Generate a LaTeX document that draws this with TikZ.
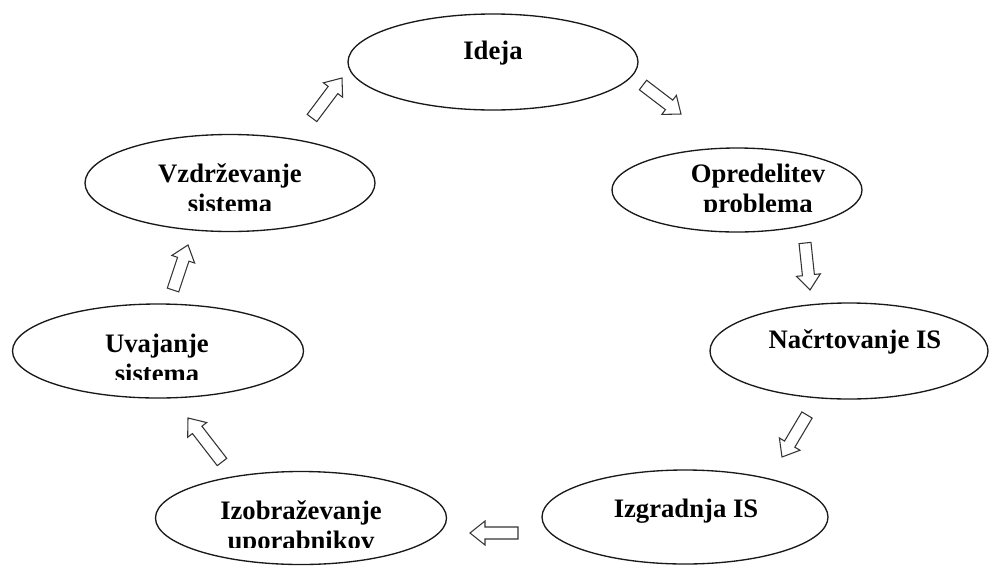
\documentclass[tikz,border=0pt]{standalone}
\usepackage{fontspec}
\setmainfont{Liberation Serif}
\usetikzlibrary{shapes.geometric,calc}
\tikzset{
  ell/.style={draw=black!90, line width=1pt, ellipse, inner sep=0pt, fill=white},
  lab/.style={font=\fontsize{20}{24}\selectfont\bfseries, inner sep=0pt, anchor=base, text=black},
  barrow/.style={draw=black!80, line width=0.8pt, fill=white, line join=miter}
}
\newcommand\blockarrow[2]{%
  \coordinate (ba) at ($(#2)!11.25pt!(#1)$);
  \draw[barrow] ($(#1)!4.5pt!90:(#2)$) -- ($(ba)!4.5pt!90:(#2)$) -- ($(ba)!9pt!90:(#2)$) -- (#2)
     -- ($(ba)!9pt!-90:(#2)$) -- ($(ba)!4.5pt!-90:(#2)$) -- ($(#1)!4.5pt!-90:(#2)$) -- cycle;}
\begin{document}
\begin{tikzpicture}[x=0.75pt,y=-0.75pt]
\useasboundingbox[fill=white] (0,0) rectangle (989,565);
% ellipses
\node[ell, minimum width=217.5pt, minimum height=72pt]   (ideja) at (493,62) {};
\node[ell, minimum width=187.5pt, minimum height=63pt]   (opred) at (737,190) {};
\node[ell, minimum width=208.5pt, minimum height=72pt]   (nacrt) at (849,351) {};
\node[ell, minimum width=214.5pt, minimum height=70.5pt] (izgr)  at (685,517) {};
\node[ell, minimum width=218.25pt, minimum height=69.75pt] (izobr) at (301,518) {};
\node[ell, minimum width=218.25pt, minimum height=70.5pt] (uvaj)  at (158,351) {};
\node[ell, minimum width=217.5pt, minimum height=72.75pt] (vzdr)  at (230,183) {};
% labels
\node[lab] (lideja) at (493,59) {Ideja};
\node[lab] (lnacrt) at (855,348) {Načrtovanje IS};
\node[lab] (lizgr) at (686,517) {Izgradnja IS};
\node[lab] (lopred1) at (758,182) {Opredelitev};
\begin{scope}
  \clip (640,190) rectangle (880,211);
  \node[lab] (lopred2) at (758,212) {problema};
\end{scope}
\node[lab] (lizobr1) at (301,519) {Izobraževanje};
\begin{scope}
  \clip (180,527) rectangle (420,547);
  \node[lab] (lizobr2) at (301,549) {uporabnikov};
\end{scope}
\node[lab] (luvaj1) at (157,352) {Uvajanje};
\begin{scope}
  \clip (50,360) rectangle (260,379);
  \node[lab] (luvaj2) at (157,382) {sistema};
\end{scope}
\node[lab] (lvzdr1) at (230,182) {Vzdrževanje};
\begin{scope}
  \clip (120,190) rectangle (340,210);
  \node[lab] (lvzdr2) at (230,212) {sistema};
\end{scope}
% arrow end points
\coordinate (t1) at (312,118); \coordinate (h1) at (342,78);
\coordinate (t2) at (643,85);  \coordinate (h2) at (681,114);
\coordinate (t3) at (805,243); \coordinate (h3) at (810,290);
\coordinate (t4) at (807,415); \coordinate (h4) at (782,457);
\coordinate (t5) at (518,533); \coordinate (h5) at (470,533);
\coordinate (t6) at (222,462); \coordinate (h6) at (188,418);
\coordinate (t7) at (173,290); \coordinate (h7) at (188,245);
\blockarrow{t1}{h1}
\blockarrow{t2}{h2}
\blockarrow{t3}{h3}
\blockarrow{t4}{h4}
\blockarrow{t5}{h5}
\blockarrow{t6}{h6}
\blockarrow{t7}{h7}
\end{tikzpicture}
\end{document}
